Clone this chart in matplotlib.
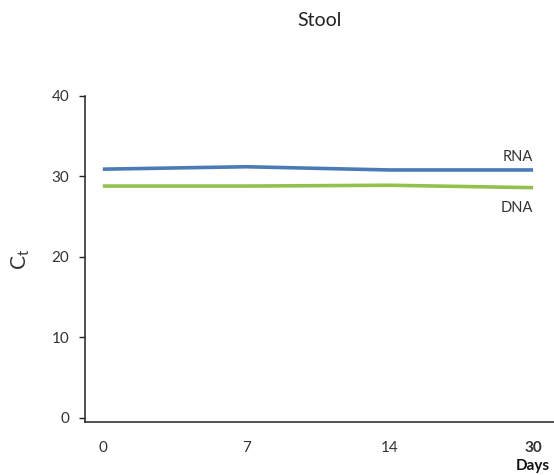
import matplotlib.pyplot as plt

plt.rcParams.update({
    "font.family": ["Lato", "DejaVu Sans"],
    "axes.spines.top": False,
    "axes.spines.right": False,
    "figure.facecolor": "white",
    "axes.facecolor": "white",
})

BLUE = "#4a7bb7"
GREEN = "#93c04f"

days = ["0", "7", "14", "30"]
rna = [30.9, 31.2, 30.8, 30.8]
dna = [28.8, 28.8, 28.9, 28.6]
y_ticks = [0, 10, 20, 30, 40]

fig = plt.figure(figsize=(5.54, 4.75), dpi=100)
ax = fig.add_axes([0.153, 0.112, 0.847, 0.686])

x = list(range(len(days)))
ax.plot(x, rna, color=BLUE, linewidth=2.6, solid_capstyle="butt")
ax.plot(x, dna, color=GREEN, linewidth=2.6, solid_capstyle="butt")

ax.text(x[-1], rna[-1] + 0.8, "RNA", ha="right", va="bottom", fontsize=10.5, color="#333")
ax.text(x[-1], dna[-1] - 1.7, "DNA", ha="right", va="top", fontsize=10.5, color="#333")

ax.set_xlim(-0.126, 3.146)
ax.set_ylim(-0.5, 40)
ax.set_yticks(y_ticks)
ax.set_yticklabels([str(v) for v in y_ticks])
ax.set_xticks(x)
ax.set_xticklabels(days)
for lbl in ax.get_xticklabels()[-1:]:
    lbl.set_fontweight("bold")
    lbl.set_color("#111")

ax.tick_params(axis="y", length=4, width=1, pad=7, labelsize=11, labelcolor="#333", color="#222")
ax.tick_params(axis="x", length=0, pad=14, labelsize=11, labelcolor="#333")
for side in ["left", "bottom"]:
    ax.spines[side].set_color("#222")
    ax.spines[side].set_linewidth(1.1)

ax.text(x[-1], -0.135, "Days", transform=ax.get_xaxis_transform(), ha="center", va="center",
        fontsize=11, fontweight="bold", color="#111")
ax.set_ylabel("C$_\\mathregular{t}$", fontsize=15, color="#333", labelpad=14)

fig.suptitle("Stool", x=0.577, y=0.975, fontsize=14, color="#222")

plt.savefig("out.png", dpi=100)
